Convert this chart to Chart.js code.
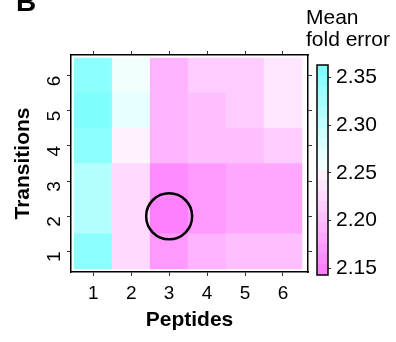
<!DOCTYPE html>
<html>
<head>
<meta charset="utf-8">
<script src="https://cdn.jsdelivr.net/npm/chart.js@4.4.0/dist/chart.umd.min.js"></script>
<style>
  body { margin: 0; background: #fff; }
  #wrap { position: relative; width: 396px; height: 342px; overflow: hidden; }
  canvas { position: absolute; top: 0; }
  .lbl { position: absolute; font-family: 'Liberation Sans', Arial, sans-serif; color: #000; white-space: nowrap; }
</style>
</head>
<body>
<div id="wrap">
  <canvas id="heat" width="396" height="342" style="left:0"></canvas>
  <canvas id="key" width="96" height="342" style="left:300px"></canvas>
  <div class="lbl" style="left:16px;top:-14px;font-size:28px;font-weight:bold">B</div>
  <div class="lbl" style="left:306px;top:6px;font-size:21px;line-height:22px">Mean<br>fold error</div>
</div>
<script>
// axis categories
const peptides = [1, 2, 3, 4, 5, 6]
const transitions = [1, 2, 3, 4, 5, 6]

// mean fold error per transition count (rows), one value per peptide count
const mfe_t1 = [2.349, 2.228, 2.173, 2.195, 2.206, 2.206]
const mfe_t2 = [2.316, 2.228, 2.151, 2.173, 2.184, 2.184]
const mfe_t3 = [2.316, 2.228, 2.162, 2.173, 2.184, 2.184]
const mfe_t4 = [2.349, 2.250, 2.195, 2.206, 2.206, 2.217]
const mfe_t5 = [2.360, 2.272, 2.195, 2.206, 2.217, 2.239]
const mfe_t6 = [2.349, 2.261, 2.195, 2.217, 2.217, 2.239]

// colour key breaks and labels
const keyBreaks = [2.143, 2.154, 2.165, 2.176, 2.187, 2.198, 2.209, 2.220, 2.231, 2.242, 2.253,
                   2.264, 2.275, 2.286, 2.297, 2.308, 2.319, 2.330, 2.341, 2.352, 2.363]
const keyTicks = [2.15, 2.20, 2.25, 2.30, 2.35]

// best combination (circled)
const best = { peptides: 3, transitions: 2 }

Chart.defaults.font.family = "'Liberation Sans', Arial, sans-serif"
Chart.defaults.color = '#000'

// cm.colors style palette, low = magenta, high = cyan
function cmColor(i, n) {
  const half = n / 2
  if (i < half) {
    const s = 0.5 * (half - i) / half
    return `rgb(255,${Math.round(255 * (1 - s))},255)`
  }
  const s = 0.5 * (i - half + 1) / half
  return `rgb(${Math.round(255 * (1 - s))},255,255)`
}

function colorFor(v) {
  const n = keyBreaks.length - 1
  let i = 0
  while (i < n - 1 && v >= keyBreaks[i + 1]) i++
  return cmColor(i, n)
}

const rows = [mfe_t1, mfe_t2, mfe_t3, mfe_t4, mfe_t5, mfe_t6]

const heatSets = rows.map((vals, r) => ({
  type: 'bar',
  data: vals.map((v, c) => ({ x: peptides[c], y: [transitions[r] - 0.5, transitions[r] + 0.5] })),
  backgroundColor: vals.map(colorFor),
  borderWidth: 0,
  grouped: false,
  barPercentage: 1,
  categoryPercentage: 1,
  order: 2
}))

heatSets.push({
  type: 'scatter',
  data: [{ x: best.peptides, y: best.transitions }],
  pointRadius: 23,
  pointBorderWidth: 2.5,
  borderColor: '#000',
  backgroundColor: 'rgba(0,0,0,0)',
  order: 0
})

const sideAxis = (pos, min, max, size, vals) => ({
  type: 'linear', position: pos, min: min, max: max, offset: false,
  ticks: { display: false },
  grid: { drawOnChartArea: false, tickLength: 4, color: '#333', offset: false },
  border: { color: '#000', width: 1.5 },
  afterBuildTicks: s => { s.ticks = vals.map(v => ({ value: v })) },
  afterFit: s => { if (pos === 'top') s.height = size; else s.width = size }
})

new Chart(document.getElementById('heat'), {
  type: 'bar',
  data: { datasets: heatSets },
  options: {
    responsive: false,
    animation: false,
    events: [],
    devicePixelRatio: 1,
    layout: { padding: { top: 51, right: 84, left: 0, bottom: 0 } },
    plugins: { legend: { display: false }, tooltip: { enabled: false } },
    scales: {
      x: {
        type: 'linear', position: 'bottom', min: 0.413, max: 6.66, offset: false,
        afterBuildTicks: s => { s.ticks = peptides.map(v => ({ value: v })) },
        ticks: { font: { size: 19 }, padding: 6, callback: v => v },
        grid: { drawOnChartArea: false, tickLength: 4, color: '#333', offset: false },
        border: { color: '#000', width: 1.5 },
        title: { display: true, text: 'Peptides', font: { size: 21, weight: 'bold' }, padding: { top: 2, bottom: 9 } },
        afterFit: s => { s.height = 70 }
      },
      x2: sideAxis('top', 0.413, 6.66, 4, peptides),
      y: {
        type: 'linear', position: 'left', min: 0.415, max: 6.585,
        afterBuildTicks: s => { s.ticks = transitions.map(v => ({ value: v })) },
        ticks: { font: { size: 19 }, padding: 12, minRotation: 90, maxRotation: 90, callback: v => v },
        grid: { drawOnChartArea: false, tickLength: 4, color: '#333' },
        border: { color: '#000', width: 1.5 },
        title: { display: true, text: 'Transitions', font: { size: 21, weight: 'bold' }, padding: { top: 11, bottom: 0 } },
        afterFit: s => { s.width = 71 }
      },
      y2: sideAxis('right', 0.415, 6.585, 4, transitions)
    }
  }
})

// colour key
const nBins = keyBreaks.length - 1
const keySets = keyBreaks.slice(0, -1).map((lo, i) => ({
  data: [[lo, keyBreaks[i + 1]]],
  backgroundColor: cmColor(i, nBins),
  borderWidth: 0,
  grouped: false,
  barPercentage: 1,
  categoryPercentage: 1
}))

const keyFrame = {
  id: 'keyFrame',
  afterDatasetsDraw(chart) {
    const a = chart.chartArea, ctx = chart.ctx
    ctx.save()
    ctx.strokeStyle = '#000'
    ctx.lineWidth = 1.5
    ctx.strokeRect(a.left, a.top, a.right - a.left, a.bottom - a.top)
    ctx.restore()
  }
}

new Chart(document.getElementById('key'), {
  type: 'bar',
  data: { labels: [''], datasets: keySets },
  plugins: [keyFrame],
  options: {
    responsive: false,
    animation: false,
    events: [],
    devicePixelRatio: 1,
    layout: { padding: { top: 65, left: 17, bottom: 67, right: 0 } },
    plugins: { legend: { display: false }, tooltip: { enabled: false } },
    scales: {
      x: { display: false },
      y: {
        position: 'right', min: keyBreaks[0], max: keyBreaks[keyBreaks.length - 1],
        afterBuildTicks: s => { s.ticks = keyTicks.map(v => ({ value: v })) },
        ticks: { font: { size: 21 }, padding: 5, callback: v => v.toFixed(2) },
        grid: { drawOnChartArea: false, tickLength: 3, color: '#333' },
        border: { display: false },
        afterFit: s => { s.width = 68 }
      }
    }
  }
})
</script>
</body>
</html>
